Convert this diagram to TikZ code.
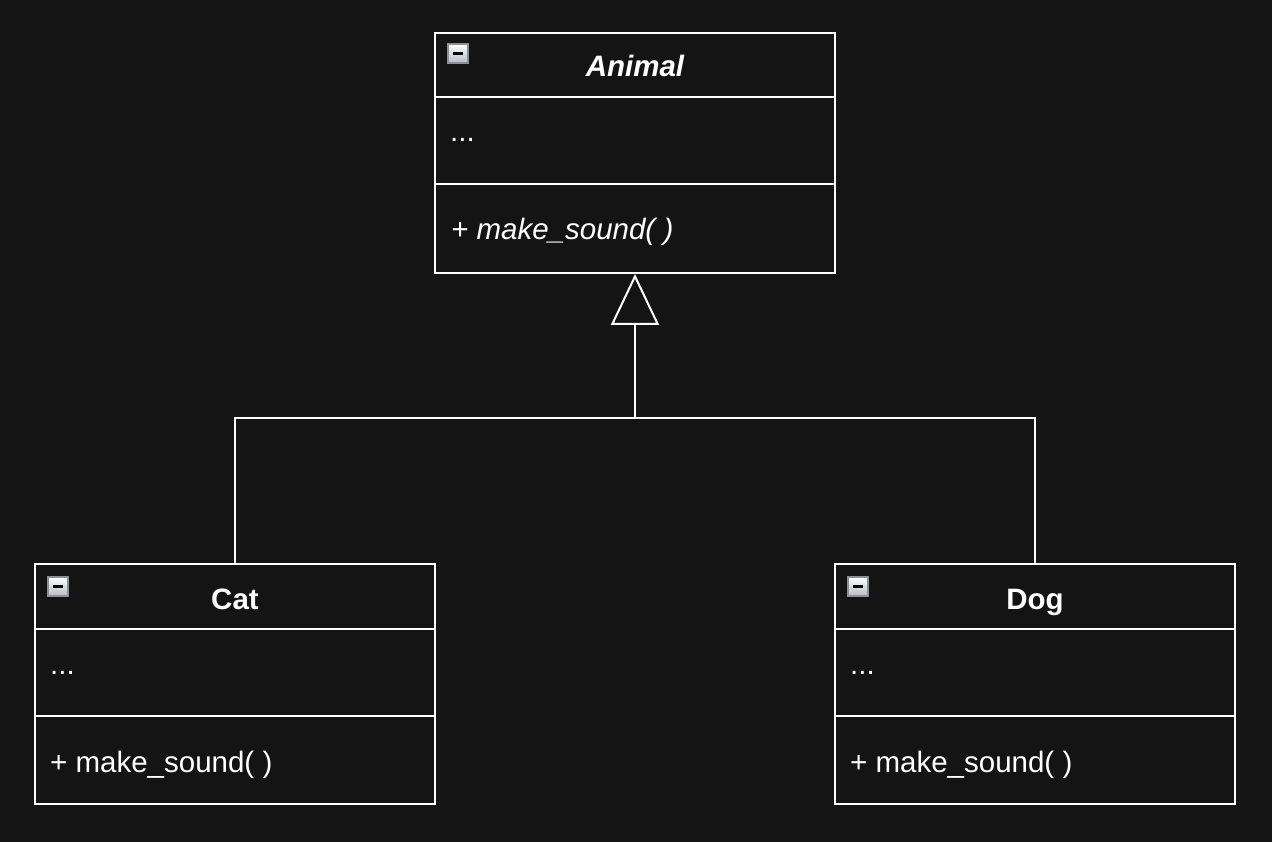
\documentclass[tikz,border=0pt]{standalone}
\usepackage{fontspec}
\setmainfont{Liberation Sans}
\usetikzlibrary{arrows.meta}

\definecolor{bgdark}{HTML}{141414}
\definecolor{iconrim}{HTML}{8C909A}
\definecolor{iconlow}{HTML}{B8BBC2}

\tikzset{
  classbox/.style={draw=white, line width=2pt, minimum width=400pt, minimum height=240pt, inner sep=0pt},
  sepline/.style={draw=white, line width=2pt},
  classtitle/.style={text=white, anchor=base, font=\fontsize{29.5}{35}\selectfont\bfseries, inner sep=0pt},
  member/.style={text=white, anchor=base west, font=\fontsize{29.5}{35}\selectfont, inner sep=0pt},
  minusicon/.style={draw=iconrim, line width=2pt, top color=white, bottom color=iconlow,
    minimum width=20pt, minimum height=19pt, inner sep=0pt, anchor=north west,
    path picture={\draw[black, line width=3pt] ([xshift=5pt]path picture bounding box.west) -- ([xshift=-5pt]path picture bounding box.east);}},
  inherit/.style={draw=white, line width=2pt, -{Triangle[open, length=51pt, width=48pt]}}
}

\begin{document}
\begin{tikzpicture}[x=1pt, y=-1pt]
  \fill[bgdark] (0,0) rectangle (1272,842);
  \useasboundingbox (0,0) rectangle (1272,842);

  % classes
  \node[classbox] (animal) at (635,153) {};
  \node[classbox] (cat) at (235,684) {};
  \node[classbox] (dog) at (1035,684) {};

  % compartments
  \draw[sepline] (435,97) -- (835,97);
  \draw[sepline] (435,184) -- (835,184);
  \draw[sepline] (35,629) -- (435,629);
  \draw[sepline] (35,716) -- (435,716);
  \draw[sepline] (835,629) -- (1235,629);
  \draw[sepline] (835,716) -- (1235,716);

  % collapse icons
  \node[minusicon] (animalicon) at (447,43) {};
  \node[minusicon] (caticon) at (47,576) {};
  \node[minusicon] (dogicon) at (847,576) {};

  % texts
  \node[classtitle, font=\fontsize{29.5}{35}\selectfont\bfseries\itshape] (animalname) at (635,77) {Animal};
  \node[member] (animalattr) at (450,142) {...};
  \node[member, font=\fontsize{29.5}{35}\selectfont\itshape] (animalop) at (451,240) {+ make\_sound( )};

  \node[classtitle] (catname) at (235,609) {Cat};
  \node[member] (catattr) at (50,674) {...};
  \node[member] (catop) at (50,772) {+ make\_sound( )};

  \node[classtitle] (dogname) at (1035,609) {Dog};
  \node[member] (dogattr) at (850,674) {...};
  \node[member] (dogop) at (850,772) {+ make\_sound( )};

  % generalization
  \coordinate (joint) at (635,418);
  \draw[sepline] (cat.north) |- (joint);
  \draw[sepline] (dog.north) |- (joint);
  \draw[inherit] (joint) -- (animal.south);
\end{tikzpicture}
\end{document}
